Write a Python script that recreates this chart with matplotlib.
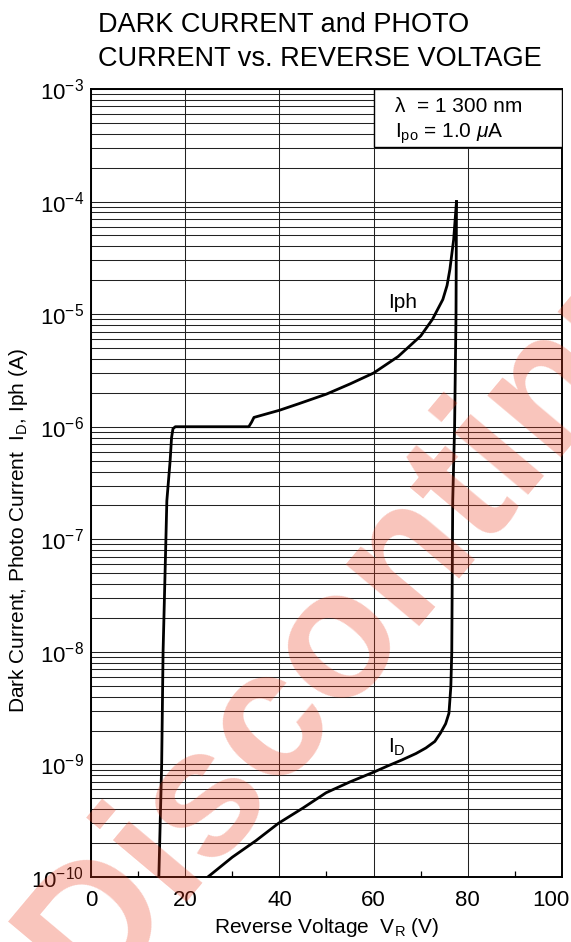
import numpy as np
import matplotlib
matplotlib.use('Agg')
import matplotlib.pyplot as plt
from matplotlib.patches import Rectangle
from matplotlib.transforms import ScaledTranslation

plt.rcParams['font.family'] = ['Liberation Sans', 'DejaVu Sans']
plt.rcParams['mathtext.fontset'] = 'custom'
plt.rcParams['mathtext.rm'] = 'Liberation Sans'
plt.rcParams['mathtext.it'] = 'Liberation Sans:italic'
plt.rcParams['mathtext.bf'] = 'Liberation Sans:bold'

# photo current Iph (A) vs reverse voltage (V)
iph_v = [14.4, 15.0, 15.3, 15.9, 16.1, 16.8, 17.1, 17.4, 17.9, 20, 25, 30, 33.5,
         34.1, 34.6, 40, 44.1, 50, 55, 60, 65.2, 70, 72.5, 74.7, 75.6,
         76.2, 77.0, 77.6]
iph_a = [1e-10, 1e-9, 1e-8, 1e-7, 2.2e-7, 5e-7, 8e-7, 9.6e-7, 1e-6, 1e-6, 1e-6,
         1e-6, 1e-6, 1.1e-6, 1.21e-6, 1.4e-6, 1.6e-6, 1.95e-6, 2.4e-6, 3.0e-6,
         4.2e-6, 6.4e-6, 9.0e-6, 1.35e-5, 1.8e-5, 2.5e-5, 4.6e-5, 1.0e-4]

# dark current ID (A)
id_v = [24.8, 30, 35, 39.8, 45, 49.9, 55, 59.9, 63, 66.1, 69, 71.1, 73, 74.2,
        75.3, 76.0, 76.4, 76.6, 76.8, 77.2, 77.5, 77.6]
id_a = [1e-10, 1.5e-10, 2.1e-10, 3.0e-10, 4.1e-10, 5.6e-10, 7.0e-10, 8.5e-10,
        9.7e-10, 1.1e-9, 1.25e-9, 1.4e-9, 1.6e-9, 1.9e-9, 2.3e-9, 2.85e-9,
        4.9e-9, 1e-8, 2.2e-7, 1e-6, 1e-5, 1e-4]

x_ticks = [0, 20, 40, 60, 80, 100]
x_minor = [10, 30, 50, 70, 90]
y_ticks = [1e-10, 1e-9, 1e-8, 1e-7, 1e-6, 1e-5, 1e-4, 1e-3]

fig = plt.figure(figsize=(5.71, 9.42), dpi=100)
ax = fig.add_axes([0.1594, 0.069, 0.8248, 0.8365])

ax.set_yscale('log')
ax.set_xlim(0, 100)
ax.set_ylim(1e-10, 1e-3)

ax.set_xticks(x_ticks)
ax.set_xticks(x_minor, minor=True)
ax.set_yticks(y_ticks)
ax.tick_params(axis='both', which='major', length=0, labelsize=16)
ax.tick_params(axis='x', which='major', pad=9)
ax.tick_params(axis='y', which='major', pad=5)
ax.tick_params(axis='x', which='minor', direction='in', length=4, width=0.9,
               bottom=True, top=False)
ax.tick_params(axis='y', which='minor', length=0, labelleft=False)

ax.grid(True, axis='x', which='major', color='#222222', lw=0.75)
ax.grid(True, axis='y', which='both', color='#222222', lw=0.75)
for s in ax.spines.values():
    s.set_linewidth(1.4)

ax.plot(iph_v, iph_a, color='black', lw=2.0, zorder=4)
ax.plot(id_v, id_a, color='black', lw=2.0, zorder=4)

ax.text(63.1, 1.135e-5, 'Iph', fontsize=15, zorder=5)
ax.text(63.1, 1.26e-9, r'I$_{\mathregular{D}}$', fontsize=15, zorder=5)

# condition box in the upper right corner
ax.add_patch(Rectangle((60, 3.05e-4), 40, 1e-3 - 3.05e-4, facecolor='white',
                       edgecolor='black', lw=1.0, zorder=3))
ax.text(64.5, 6.2e-4, 'λ  = 1 300 nm', fontsize=15, zorder=5)
ax.text(64.5, 3.7e-4, r'I$_{\mathregular{po}}$ = 1.0 $\mu$A', fontsize=15, zorder=5)

ax.set_xlabel(r'Reverse Voltage  V$_{\mathregular{R}}$ (V)', fontsize=15, labelpad=4)
ax.set_ylabel(r'Dark Current, Photo Current  I$_{\mathregular{D}}$, Iph (A)', fontsize=15)
ax.yaxis.set_label_coords(-0.130, 0.44)

# last x label sits a little left, inside the picture
fig.canvas.draw()
last = ax.get_xticklabels()[-1]
last.set_transform(last.get_transform() + ScaledTranslation(-0.11, 0, fig.dpi_scale_trans))

fig.text(98 / 571, 1 - 12 / 942, 'DARK CURRENT and PHOTO\nCURRENT vs. REVERSE VOLTAGE',
         fontsize=19.5, ha='left', va='top', linespacing=1.38)

fig.text(92 / 571, 1 - 1002 / 942, 'Discontinued', fontsize=130, fontweight='bold',
         color='#ec3d1f', alpha=0.3, rotation=50, rotation_mode='anchor',
         ha='left', va='baseline', zorder=10)

fig.savefig('out.png', dpi=100)
